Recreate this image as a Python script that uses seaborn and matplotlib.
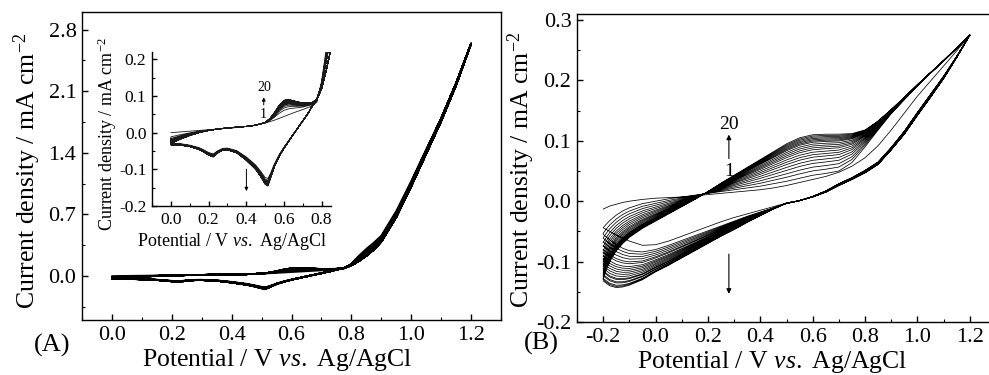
import numpy as np
import pandas as pd
import matplotlib
matplotlib.use("Agg")
import matplotlib.pyplot as plt
from matplotlib.ticker import MultipleLocator, FormatStrFormatter
import seaborn as sns

# ---------------- Panel A : 20 CV cycles, 0 -> 1.2 V ----------------
E_A_fwd = [0.0, 0.05, 0.1, 0.15, 0.2, 0.25, 0.3, 0.35, 0.4, 0.45, 0.5, 0.525, 0.55, 0.575,
           0.6, 0.625, 0.65, 0.7, 0.75, 0.775, 0.8, 0.825, 0.85, 0.875, 0.9, 0.95, 1.0,
           1.05, 1.1, 1.15, 1.2]
jA_fwd_c1 = [0.000, 0.002, 0.004, 0.006, 0.008, 0.010, 0.012, 0.014, 0.017, 0.021, 0.026,
             0.030, 0.034, 0.039, 0.044, 0.049, 0.054, 0.063, 0.073, 0.083, 0.140, 0.230,
             0.310, 0.380, 0.460, 0.740, 1.080, 1.440, 1.790, 2.190, 2.640]
jA_fwd_c20 = [-0.030, -0.018, -0.008, 0.000, 0.006, 0.010, 0.013, 0.015, 0.017, 0.020, 0.028,
              0.038, 0.055, 0.075, 0.088, 0.091, 0.087, 0.081, 0.082, 0.092, 0.130, 0.195,
              0.265, 0.335, 0.420, 0.700, 1.050, 1.420, 1.790, 2.190, 2.640]
E_A_rev = [1.2, 1.15, 1.1, 1.05, 1.0, 0.95, 0.9, 0.875, 0.85, 0.825, 0.8, 0.775, 0.75, 0.725,
           0.7, 0.65, 0.6, 0.575, 0.55, 0.53, 0.515, 0.5, 0.475, 0.45, 0.4, 0.35, 0.3, 0.275,
           0.25, 0.225, 0.2, 0.175, 0.15, 0.1, 0.05, 0.0]
jA_rev_c1 = [2.64, 2.17, 1.76, 1.39, 1.02, 0.67, 0.39, 0.30, 0.23, 0.17, 0.12, 0.09, 0.072,
             0.05, 0.032, -0.004, -0.040, -0.060, -0.085, -0.110, -0.125, -0.122, -0.104,
             -0.088, -0.066, -0.049, -0.042, -0.043, -0.049, -0.058, -0.054, -0.047, -0.041,
             -0.034, -0.030, -0.029]
jA_rev_c20 = [2.64, 2.17, 1.76, 1.39, 1.02, 0.67, 0.39, 0.30, 0.23, 0.17, 0.12, 0.09, 0.072,
              0.05, 0.032, -0.005, -0.043, -0.065, -0.092, -0.122, -0.145, -0.140, -0.118,
              -0.100, -0.075, -0.055, -0.047, -0.048, -0.055, -0.066, -0.061, -0.053, -0.046,
              -0.038, -0.034, -0.033]
# anodic peak (~0.62 V) and cathodic peak (~0.52 V) current of each cycle 1..20
peakA_anodic = [0.049, 0.065, 0.071, 0.075, 0.078, 0.080, 0.082, 0.083, 0.084, 0.085,
                0.086, 0.087, 0.088, 0.088, 0.089, 0.089, 0.090, 0.090, 0.091, 0.091]
peakA_cathodic = [-0.125, -0.130, -0.133, -0.135, -0.137, -0.138, -0.139, -0.140, -0.141,
                  -0.141, -0.142, -0.142, -0.143, -0.143, -0.144, -0.144, -0.144, -0.145,
                  -0.145, -0.145]

# ---------------- Panel B : 20 CV cycles, -0.2 -> 1.2 V ----------------
E_B_fwd = [-0.2, -0.19, -0.175, -0.15, -0.125, -0.1, -0.05, 0.0, 0.05, 0.1, 0.15, 0.2, 0.25,
           0.3, 0.35, 0.4, 0.45, 0.5, 0.55, 0.6, 0.65, 0.7, 0.75, 0.8, 0.85, 0.9, 0.95, 1.0,
           1.05, 1.1, 1.15, 1.2]
jB_fwd_c1 = [-0.013, -0.011, -0.008, -0.005, -0.002, 0.000, 0.003, 0.005, 0.006, 0.007,
             0.009, 0.011, 0.013, 0.015, 0.017, 0.019, 0.022, 0.026, 0.031, 0.036, 0.041,
             0.048, 0.058, 0.072, 0.092, 0.118, 0.146, 0.174, 0.199, 0.224, 0.249, 0.275]
jB_fwd_c2 = [-0.044, -0.039, -0.032, -0.023, -0.016, -0.011, -0.004, 0.000, 0.004, 0.007,
             0.010, 0.013, 0.016, 0.019, 0.022, 0.025, 0.029, 0.033, 0.038, 0.043, 0.046,
             0.050, 0.064, 0.090, 0.118, 0.145, 0.168, 0.191, 0.212, 0.232, 0.253, 0.275]
jB_fwd_c20 = [-0.128, -0.115, -0.100, -0.082, -0.070, -0.060, -0.045, -0.033, -0.021, -0.009,
              0.003, 0.016, 0.030, 0.043, 0.056, 0.069, 0.082, 0.095, 0.105, 0.110, 0.111,
              0.111, 0.112, 0.118, 0.133, 0.152, 0.172, 0.193, 0.213, 0.233, 0.254, 0.275]
E_B_rev = [1.2, 1.15, 1.1, 1.05, 1.0, 0.95, 0.9, 0.85, 0.8, 0.75, 0.7, 0.65, 0.6, 0.55, 0.5,
           0.45, 0.4, 0.35, 0.3, 0.25, 0.2, 0.15, 0.1, 0.05, 0.0, -0.05, -0.1, -0.125, -0.15,
           -0.175, -0.2]
jB_rev_c1 = [0.275, 0.240, 0.207, 0.177, 0.147, 0.116, 0.089, 0.065, 0.051, 0.039, 0.029,
             0.017, 0.008, 0.001, -0.003, -0.009, -0.015, -0.021, -0.027, -0.034, -0.042,
             -0.050, -0.058, -0.066, -0.072, -0.073, -0.066, -0.061, -0.056, -0.050, -0.044]
jB_rev_c2 = [0.275, 0.240, 0.207, 0.177, 0.147, 0.116, 0.089, 0.065, 0.051, 0.039, 0.029,
             0.017, 0.008, 0.001, -0.004, -0.011, -0.018, -0.025, -0.033, -0.041, -0.049,
             -0.057, -0.065, -0.073, -0.080, -0.084, -0.082, -0.078, -0.072, -0.064, -0.055]
jB_rev_c20 = [0.275, 0.238, 0.203, 0.172, 0.142, 0.111, 0.085, 0.061, 0.047, 0.036, 0.026,
              0.015, 0.007, 0.001, -0.003, -0.013, -0.024, -0.035, -0.047, -0.058, -0.070,
              -0.082, -0.094, -0.106, -0.117, -0.130, -0.139, -0.142, -0.143, -0.140, -0.132]
# plateau current at 0.65 V (forward) and current at 0.0 V (reverse), cycles 2..20
plateauB = [0.046, 0.053, 0.059, 0.065, 0.070, 0.075, 0.079, 0.083, 0.087, 0.090, 0.093,
            0.096, 0.099, 0.101, 0.103, 0.105, 0.107, 0.109, 0.111]
cathB = [-0.080, -0.083, -0.086, -0.089, -0.092, -0.094, -0.097, -0.099, -0.101, -0.103,
         -0.105, -0.107, -0.109, -0.110, -0.112, -0.113, -0.115, -0.116, -0.117]


def cycles_between(lo, hi, levels):
    lo, hi, levels = np.asarray(lo), np.asarray(hi), np.asarray(levels)
    w = (levels - levels[0]) / (levels[-1] - levels[0])
    return [lo + wi * (hi - lo) for wi in w]


def cv_frame(fwd_list, rev_list, Ef, Er):
    parts = []
    for k, (f, r) in enumerate(zip(fwd_list, rev_list), start=1):
        parts.append(pd.DataFrame({"E": Ef, "j": f, "cycle": k}))
        parts.append(pd.DataFrame({"E": Er, "j": r, "cycle": k}))
    return pd.concat(parts, ignore_index=True)


fwdA = cycles_between(jA_fwd_c1, jA_fwd_c20, peakA_anodic)
revA = cycles_between(jA_rev_c1, jA_rev_c20, peakA_cathodic)
dfA = cv_frame(fwdA, revA, E_A_fwd, E_A_rev)

fwdB = [np.asarray(jB_fwd_c1)] + cycles_between(jB_fwd_c2, jB_fwd_c20, plateauB)
revB = [np.asarray(jB_rev_c1)] + cycles_between(jB_rev_c2, jB_rev_c20, cathB)
dfB = cv_frame(fwdB, revB, E_B_fwd, E_B_rev)

# ---------------- style ----------------
sns.set_theme(style="ticks")
plt.rcParams.update({
    "font.family": "serif",
    "font.serif": ["Liberation Serif", "DejaVu Serif"],
    "mathtext.fontset": "custom",
    "mathtext.rm": "Liberation Serif",
    "mathtext.it": "Liberation Serif:italic",
    "mathtext.bf": "Liberation Serif:bold",
    "axes.unicode_minus": False,
    "axes.edgecolor": "black",
    "axes.linewidth": 1.0,
    "xtick.color": "black",
    "ytick.color": "black",
    "text.color": "black",
    "axes.labelcolor": "black",
})

W, H = 989, 375
fig = plt.figure(figsize=(W / 100, H / 100), dpi=100)

def px_axes(l, b, r, t):
    return fig.add_axes([l / W, 1 - b / H, (r - l) / W, (b - t) / H])

axA = px_axes(82, 320, 501, 12)
axB = px_axes(577, 322, 996, 14)
axI = px_axes(152, 206, 331, 52)

xlab = r"Potential / V $\mathit{vs.}$ Ag/AgCl"
ylab = r"Current density / mA cm$^{-2}$"

def style_axis(ax, tick_size, maj_len, min_len, pad=4):
    ax.tick_params(which="both", direction="in", top=False, right=False,
                   colors="black", labelsize=tick_size, pad=pad)
    ax.tick_params(which="major", length=maj_len, width=1.0)
    ax.tick_params(which="minor", length=min_len, width=0.8)

MAIN_LAB = 18.5
MAIN_TICK = 16

# Panel A main
sns.lineplot(data=dfA, x="E", y="j", estimator=None, sort=False, color="black",
             lw=1.2, ax=axA)
axA.set_xlim(-0.1, 1.3)
axA.set_ylim(-0.5, 3.0)
axA.xaxis.set_major_locator(MultipleLocator(0.2))
axA.xaxis.set_minor_locator(MultipleLocator(0.1))
axA.yaxis.set_major_locator(MultipleLocator(0.7))
axA.yaxis.set_minor_locator(MultipleLocator(0.35))
axA.xaxis.set_major_formatter(FormatStrFormatter("%.1f"))
axA.yaxis.set_major_formatter(FormatStrFormatter("%.1f"))
style_axis(axA, MAIN_TICK, 4.5, 2.5)
axA.set_xlabel(xlab, fontsize=MAIN_LAB, va="center")
axA.set_ylabel(ylab, fontsize=MAIN_LAB, va="center")
axA.xaxis.set_label_coords((277.5 - 82) / 419, (320 - 360) / 308)
axA.yaxis.set_label_coords((27 - 82) / 419, (320 - 171) / 308)

# Inset
sns.lineplot(data=dfA, x="E", y="j", estimator=None, sort=False, color="#1a1a1a",
             lw=0.6, ax=axI)
axI.set_facecolor("none")
axI.set_xlim(-0.1, 0.85)
axI.set_ylim(-0.2, 0.22)
axI.spines["top"].set_visible(False)
axI.spines["right"].set_visible(False)
axI.xaxis.set_major_locator(MultipleLocator(0.2))
axI.xaxis.set_minor_locator(MultipleLocator(0.1))
axI.yaxis.set_major_locator(MultipleLocator(0.1))
axI.yaxis.set_minor_locator(MultipleLocator(0.05))
axI.xaxis.set_major_formatter(FormatStrFormatter("%.1f"))
axI.yaxis.set_major_formatter(FormatStrFormatter("%.1f"))
style_axis(axI, 12.5, 3.5, 2.0)
axI.set_xlabel(xlab, fontsize=13, va="center")
axI.set_ylabel(ylab, fontsize=13, va="center")
axI.xaxis.set_label_coords((231.7 - 152) / 179, (206 - 242) / 154)
axI.yaxis.set_label_coords((107.5 - 152) / 179, (206 - 134) / 154)
axI.text(0.497, 0.122, "20", ha="center", va="center", fontsize=10)
axI.text(0.493, 0.049, "1", ha="center", va="center", fontsize=10)
axI.annotate("", xy=(0.493, 0.104), xytext=(0.493, 0.068),
             arrowprops=dict(arrowstyle="-|>", lw=0.7, color="black", mutation_scale=5))
axI.annotate("", xy=(0.401, -0.167), xytext=(0.401, -0.092),
             arrowprops=dict(arrowstyle="-|>", lw=0.7, color="black", mutation_scale=5))

# Panel B
sns.lineplot(data=dfB, x="E", y="j", estimator=None, sort=False, color="black",
             lw=0.55, ax=axB)
axB.set_xlim(-0.3, 1.3)
axB.set_ylim(-0.2, 0.31)
axB.xaxis.set_major_locator(MultipleLocator(0.2))
axB.xaxis.set_minor_locator(MultipleLocator(0.1))
axB.yaxis.set_major_locator(MultipleLocator(0.1))
axB.yaxis.set_minor_locator(MultipleLocator(0.05))
axB.xaxis.set_major_formatter(FormatStrFormatter("%.1f"))
axB.yaxis.set_major_formatter(FormatStrFormatter("%.1f"))
style_axis(axB, MAIN_TICK, 4.5, 2.5)
axB.set_xlabel(xlab, fontsize=MAIN_LAB, va="center")
axB.set_ylabel(ylab, fontsize=MAIN_LAB, va="center")
axB.xaxis.set_label_coords((772.5 - 577) / 419, (322 - 362) / 308)
axB.yaxis.set_label_coords((521 - 577) / 419, (322 - 170) / 308)
axB.text(0.28, 0.127, "20", ha="center", va="center", fontsize=14)
axB.text(0.28, 0.049, "1", ha="center", va="center", fontsize=14)
axB.annotate("", xy=(0.28, 0.115), xytext=(0.28, 0.066),
             arrowprops=dict(arrowstyle="-|>", lw=0.8, color="black", mutation_scale=7))
axB.annotate("", xy=(0.28, -0.158), xytext=(0.28, -0.083),
             arrowprops=dict(arrowstyle="-|>", lw=0.8, color="black", mutation_scale=7))

# panel letters
fig.text(52 / W, 1 - 345 / H, "(A)", ha="center", va="center", fontsize=19)
fig.text(541 / W, 1 - 343 / H, "(B)", ha="center", va="center", fontsize=19)

fig.savefig("out.png", dpi=100)
